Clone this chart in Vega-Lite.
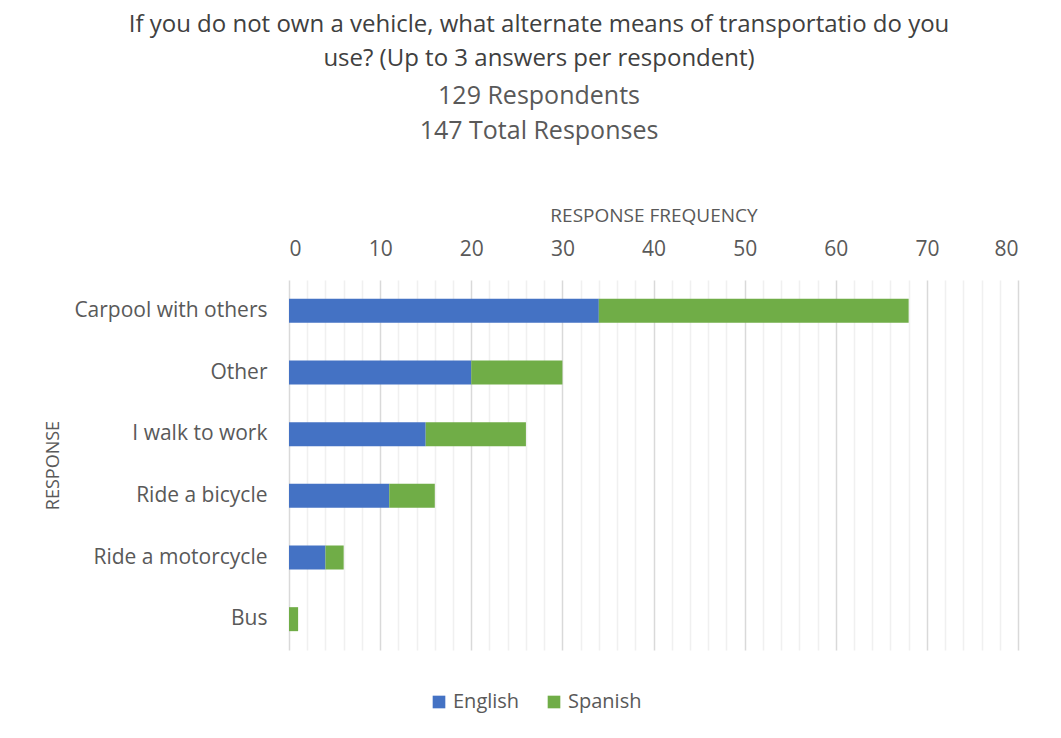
{
  "$schema": "https://vega.github.io/schema/vega-lite/v6.json",
  "width": 729,
  "height": 370,
  "padding": {"left": 44, "top": 13, "right": 20, "bottom": 20},
  "background": "white",
  "config": {"view": {"stroke": null}, "font": "Open Sans"},
  "title": {
    "text": ["If you do not own a vehicle, what alternate means of transportatio do you", "use? (Up to 3 answers per respondent)"],
    "subtitle": ["129 Respondents", "147 Total Responses"],
    "font": "Open Sans",
    "fontSize": 24,
    "fontWeight": "normal",
    "color": "#404040",
    "lineHeight": 34,
    "subtitleFont": "Open Sans",
    "subtitleFontSize": 25,
    "subtitleColor": "#595959",
    "subtitleLineHeight": 35,
    "subtitlePadding": 13,
    "anchor": "middle",
    "frame": "bounds",
    "dx": 8,
    "offset": 62
  },
  "data": {
    "values": [
      {"response": "Carpool with others", "language": "English", "count": 34},
      {"response": "Carpool with others", "language": "Spanish", "count": 34},
      {"response": "Other", "language": "English", "count": 20},
      {"response": "Other", "language": "Spanish", "count": 10},
      {"response": "I walk to work", "language": "English", "count": 15},
      {"response": "I walk to work", "language": "Spanish", "count": 11},
      {"response": "Ride a bicycle", "language": "English", "count": 11},
      {"response": "Ride a bicycle", "language": "Spanish", "count": 5},
      {"response": "Ride a motorcycle", "language": "English", "count": 4},
      {"response": "Ride a motorcycle", "language": "Spanish", "count": 2},
      {"response": "Bus", "language": "English", "count": 0},
      {"response": "Bus", "language": "Spanish", "count": 1}
    ]
  },
  "mark": {"type": "bar", "size": 24},
  "encoding": {
    "y": {
      "field": "response",
      "type": "nominal",
      "sort": ["Carpool with others", "Other", "I walk to work", "Ride a bicycle", "Ride a motorcycle", "Bus"],
      "title": "RESPONSE",
      "axis": {
        "domain": false,
        "ticks": false,
        "labelFont": "Open Sans",
        "labelFontSize": 21,
        "labelColor": "#595959",
        "labelPadding": 22,
        "labelLimit": 400,
        "titleFont": "Open Sans",
        "titleFontSize": 18,
        "titleFontWeight": "normal",
        "titleColor": "#595959",
        "titlePadding": 27,
        "grid": false
      }
    },
    "x": {
      "field": "count",
      "type": "quantitative",
      "stack": "zero",
      "scale": {"domain": [0, 80], "nice": false},
      "title": "RESPONSE FREQUENCY",
      "axis": {
        "orient": "top",
        "values": [0, 2, 4, 6, 8, 10, 12, 14, 16, 18, 20, 22, 24, 26, 28, 30, 32, 34, 36, 38, 40, 42, 44, 46, 48, 50, 52, 54, 56, 58, 60, 62, 64, 66, 68, 70, 72, 74, 76, 78, 80],
        "labelExpr": "datum.value % 10 === 0 ? datum.label : ''",
        "domain": false,
        "ticks": false,
        "grid": true,
        "gridColor": {"condition": {"test": "datum.value % 10 === 0", "value": "#d9d9d9"}, "value": "#f0f0f0"},
        "gridWidth": 1.5,
        "labelFont": "Open Sans",
        "labelFontSize": 21,
        "labelColor": "#595959",
        "labelPadding": 21,
        "labelOverlap": false,
        "titleFont": "Open Sans",
        "titleFontSize": 19,
        "titleFontWeight": "normal",
        "titleColor": "#595959",
        "titlePadding": 13
      }
    },
    "color": {
      "field": "language",
      "type": "nominal",
      "scale": {"domain": ["English", "Spanish"], "range": ["#4472C4", "#70AD47"]},
      "legend": {
        "orient": "none",
        "legendX": 140,
        "legendY": 412,
        "direction": "horizontal",
        "title": null,
        "symbolType": "square",
        "symbolSize": 160,
        "symbolStrokeWidth": 0,
        "labelFont": "Open Sans",
        "labelFontSize": 20,
        "labelColor": "#595959",
        "columnPadding": 24
      }
    }
  }
}
